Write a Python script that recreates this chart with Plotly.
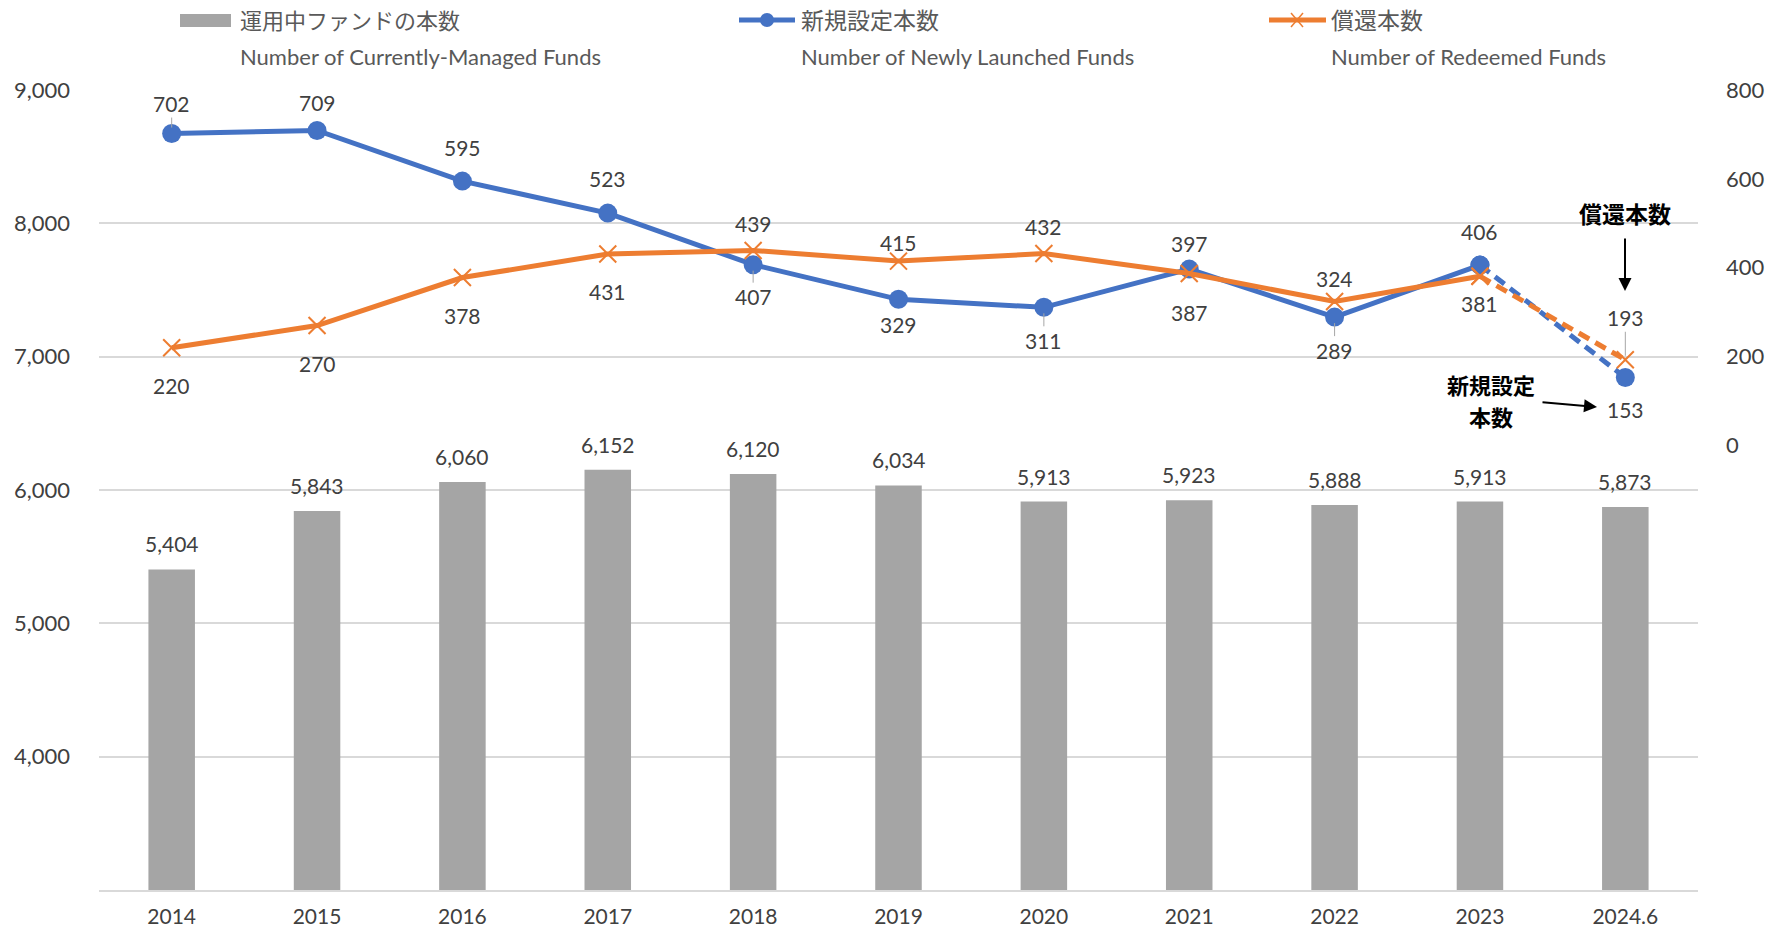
import plotly.graph_objects as go

# ---------------- data ----------------
categories = ["2014", "2015", "2016", "2017", "2018", "2019", "2020", "2021", "2022", "2023", "2024.6"]
managed_funds = [5404, 5843, 6060, 6152, 6120, 6034, 5913, 5923, 5888, 5913, 5873]
new_funds = [702, 709, 595, 523, 407, 329, 311, 397, 289, 406, 153]
redeemed_funds = [220, 270, 378, 431, 439, 415, 432, 387, 324, 381, 193]

left_ticks = [4000, 5000, 6000, 7000, 8000, 9000]
right_ticks = [0, 200, 400, 600, 800]

legend_jp = ["運用中ファンドの本数", "新規設定本数", "償還本数"]
legend_en = ["Number of Currently-Managed Funds", "Number of Newly Launched Funds", "Number of Redeemed Funds"]
callout_new = ["新規設定", "本数"]
callout_red = "償還本数"

# label offsets in pixels (style only)
new_label_dy = [30, 28, 34, 35, -32, -25, -33, 26, -33, 34, -32]
red_label_dy = [-38, -38, -38, -37, 27, 19, 27, -39, 23, -27, 42]
new_leader = [True, False, False, False, True, False, True, False, True, False, False]
red_leader = [False, False, False, False, False, False, False, False, False, False, True]

# ---------------- style ----------------
W, H = 1769, 930
L, R, T, B = 99, 71, 90, 40
PW, PH = W - L - R, H - T - B
BLUE = "#4472C4"
ORANGE = "#ED7D31"
GREY = "#A5A5A5"
TXT = "#404040"
GRID = "#D9D9D9"
FONT = "Lato, 'Noto Sans CJK JP', sans-serif"
JPFONT = "'Noto Sans CJK JP', sans-serif"
legend_jp_size = [22, 23, 23]


def px(x):
    return (x - L) / PW


def py(y):
    return (H - B - y) / PH


fig = go.Figure()

fig.add_trace(go.Bar(
    x=categories, y=managed_funds, marker=dict(color=GREY, line=dict(width=0)),
    yaxis="y", name=legend_jp[0], hoverinfo="x+y",
))

n_solid = len(categories) - 1
fig.add_trace(go.Scatter(
    x=categories[:n_solid], y=new_funds[:n_solid], yaxis="y2", mode="lines+markers",
    line=dict(color=BLUE, width=5), marker=dict(color=BLUE, size=19, symbol="circle"),
    name=legend_jp[1],
))
fig.add_trace(go.Scatter(
    x=categories[n_solid - 1:], y=new_funds[n_solid - 1:], yaxis="y2", mode="lines+markers",
    line=dict(color=BLUE, width=5, dash="12px,7px"), marker=dict(color=BLUE, size=19, symbol="circle"),
    name=legend_jp[1], showlegend=False,
))
fig.add_trace(go.Scatter(
    x=categories[:n_solid], y=redeemed_funds[:n_solid], yaxis="y2", mode="lines+markers",
    line=dict(color=ORANGE, width=5),
    marker=dict(color=ORANGE, size=17, symbol="x-thin", line=dict(color=ORANGE, width=2)),
    name=legend_jp[2],
))
fig.add_trace(go.Scatter(
    x=categories[n_solid - 1:], y=redeemed_funds[n_solid - 1:], yaxis="y2", mode="lines+markers",
    line=dict(color=ORANGE, width=5, dash="12px,7px"),
    marker=dict(color=ORANGE, size=17, symbol="x-thin", line=dict(color=ORANGE, width=2)),
    name=legend_jp[2], showlegend=False,
))

annotations = []
# bar labels (x given as category index)
for i, v in enumerate(managed_funds):
    annotations.append(dict(
        x=i, y=v, xref="x", yref="y", text=f"{v:,}", showarrow=False,
        yanchor="bottom", yshift=11, font=dict(family=FONT, size=21, color=TXT),
    ))
# line labels
for i, (v, dy, ld) in enumerate(zip(new_funds, new_label_dy, new_leader)):
    annotations.append(dict(
        x=i, y=v, xref="x", yref="y2", text=str(v), showarrow=True,
        ax=0, ay=-dy, axref="pixel", ayref="pixel", arrowhead=0, arrowwidth=1,
        arrowcolor="#A6A6A6" if ld else "rgba(0,0,0,0)", standoff=6,
        font=dict(family=FONT, size=21, color=TXT),
    ))
for i, (v, dy, ld) in enumerate(zip(redeemed_funds, red_label_dy, red_leader)):
    annotations.append(dict(
        x=i, y=v, xref="x", yref="y2", text=str(v), showarrow=True,
        ax=0, ay=-dy, axref="pixel", ayref="pixel", arrowhead=0, arrowwidth=1,
        arrowcolor="#A6A6A6" if ld else "rgba(0,0,0,0)", standoff=4,
        font=dict(family=FONT, size=21, color=TXT),
    ))

# custom legend
legend_sw_x = [180, 739, 1269]
legend_txt_x = [238, 799, 1329]
shapes = []
shapes.append(dict(type="rect", xref="paper", yref="paper",
                   x0=px(legend_sw_x[0]), x1=px(legend_sw_x[0] + 51), y0=py(27), y1=py(14),
                   fillcolor=GREY, line=dict(width=0)))
shapes.append(dict(type="line", xref="paper", yref="paper",
                   x0=px(legend_sw_x[1]), x1=px(legend_sw_x[1] + 56), y0=py(20), y1=py(20),
                   line=dict(color=BLUE, width=5)))
shapes.append(dict(type="circle", xref="paper", yref="paper",
                   x0=px(legend_sw_x[1] + 28 - 7), x1=px(legend_sw_x[1] + 28 + 7), y0=py(27), y1=py(13),
                   fillcolor=BLUE, line=dict(width=0)))
shapes.append(dict(type="line", xref="paper", yref="paper",
                   x0=px(legend_sw_x[2]), x1=px(legend_sw_x[2] + 57), y0=py(20), y1=py(20),
                   line=dict(color=ORANGE, width=5)))
ocx = legend_sw_x[2] + 28
shapes.append(dict(type="line", xref="paper", yref="paper",
                   x0=px(ocx - 6), x1=px(ocx + 6), y0=py(13), y1=py(27),
                   line=dict(color=ORANGE, width=1.5)))
shapes.append(dict(type="line", xref="paper", yref="paper",
                   x0=px(ocx - 6), x1=px(ocx + 6), y0=py(27), y1=py(13),
                   line=dict(color=ORANGE, width=1.5)))

for jp, en, tx, fs in zip(legend_jp, legend_en, legend_txt_x, legend_jp_size):
    annotations.append(dict(x=px(tx), y=py(19), xref="paper", yref="paper", text=jp,
                            showarrow=False, xanchor="left", yanchor="middle",
                            font=dict(family=JPFONT, size=fs, color="#595959")))
    annotations.append(dict(x=px(tx), y=py(57), xref="paper", yref="paper", text=en,
                            showarrow=False, xanchor="left", yanchor="middle",
                            font=dict(family=FONT, size=22, color="#595959")))

# callouts
annotations.append(dict(x=px(1625), y=py(291), xref="paper", yref="paper", text="",
                        showarrow=True, ax=0, ay=-54, axref="pixel", ayref="pixel",
                        arrowhead=2, arrowsize=1.3, arrowwidth=2, arrowcolor="black"))
annotations.append(dict(x=px(1625), y=py(213), xref="paper", yref="paper", text=f"<b>{callout_red}</b>",
                        showarrow=False, xanchor="center", yanchor="middle",
                        font=dict(family=JPFONT, size=23, color="black")))
for txt, yy in zip(callout_new, [384, 416]):
    annotations.append(dict(x=px(1491), y=py(yy), xref="paper", yref="paper", text=f"<b>{txt}</b>",
                            showarrow=False, xanchor="center", yanchor="middle", borderpad=0,
                            font=dict(family=JPFONT, size=22, color="black")))
annotations.append(dict(x=px(1597), y=py(407), xref="paper", yref="paper", text="",
                        showarrow=True, ax=-56, ay=-5, axref="pixel", ayref="pixel",
                        arrowhead=2, arrowsize=1.3, arrowwidth=2, arrowcolor="black"))

fig.update_layout(
    width=W, height=H,
    margin=dict(l=L, r=R, t=T, b=B, autoexpand=False),
    paper_bgcolor="white", plot_bgcolor="white",
    showlegend=False,
    bargap=0.68,
    font=dict(family=FONT, size=21, color=TXT),
    xaxis=dict(type="category", categoryorder="array", categoryarray=categories,
               range=[-0.5, len(categories) - 0.5], autorange=False, automargin=False,
               showline=True, linecolor=GRID, linewidth=2, showgrid=False,
               ticks="", ticklabelstandoff=7, tickfont=dict(family=FONT, size=21, color=TXT)),
    yaxis=dict(range=[3000, 9000], tickvals=left_ticks, tickformat=",", automargin=False,
               showgrid=True, gridcolor=GRID, gridwidth=2, zeroline=False, showline=False,
               ticks="", ticklabelstandoff=28, tickfont=dict(family=FONT, size=22, color=TXT)),
    yaxis2=dict(range=[-1000, 800], tickvals=right_ticks, overlaying="y", side="right",
                automargin=False,
                showgrid=False, zeroline=False, showline=False, ticks="",
                ticklabelstandoff=27, tickfont=dict(family=FONT, size=22, color=TXT)),
    annotations=annotations,
    shapes=shapes,
)

fig.write_html("out.html", config={"displayModeBar": False},
               post_script="document.body.style.margin='0';")
